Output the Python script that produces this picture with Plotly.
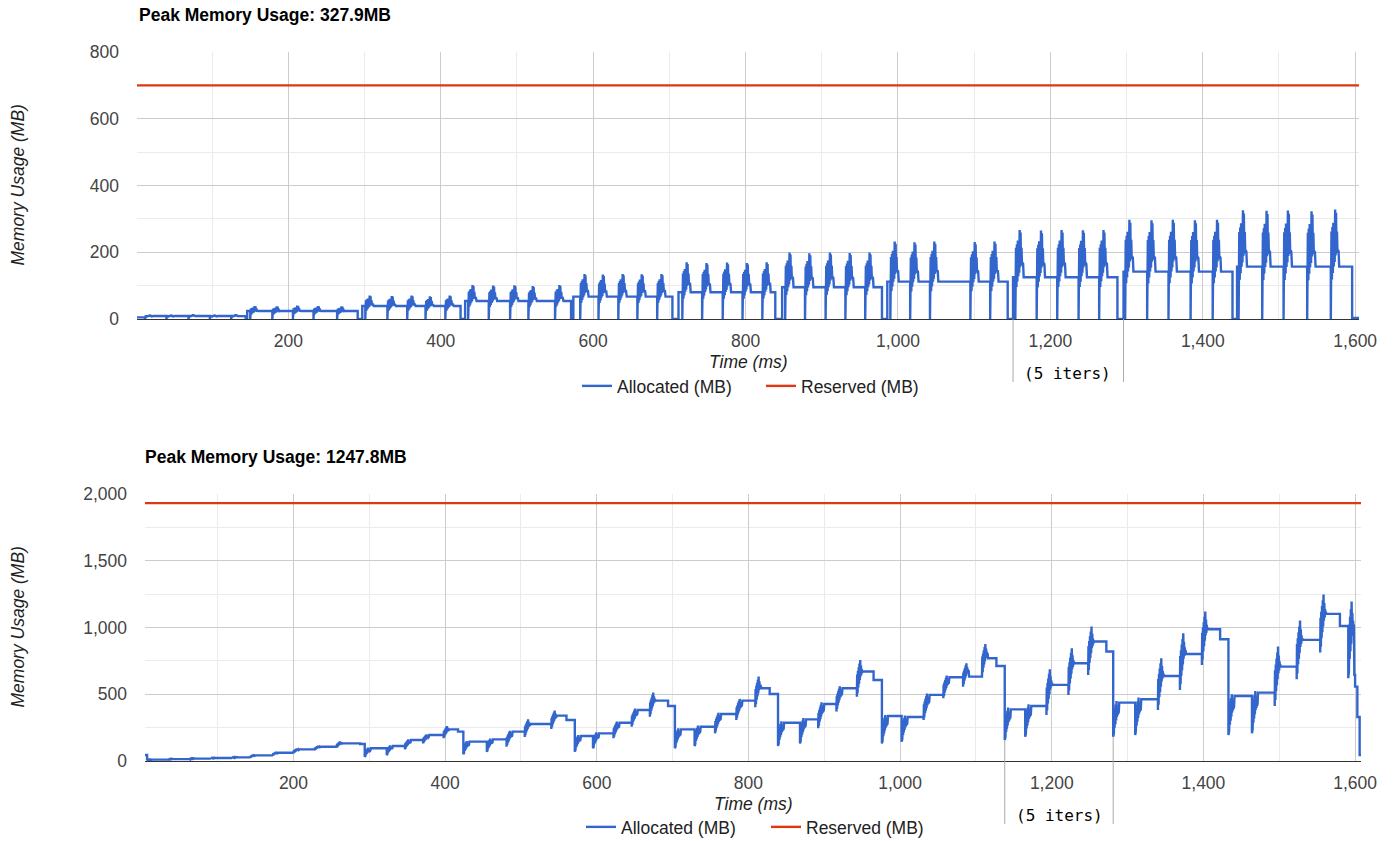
import plotly.graph_objects as go

# ------------------------------------------------------------------
# Run 1 (upper chart): 11 groups of 5 iterations each
# ------------------------------------------------------------------
TOP_T_RANGE = [1.4, 1605.0]
TOP_START_V = 5.0
TOP_GROUP_START = [1.4, 146, 297, 432, 574, 712, 848, 986, 1151, 1296, 1445]
TOP_GROUP_END = [144, 291, 426, 571, 704, 839, 979, 1144, 1288, 1439, 1596]
TOP_GROUP_LEVEL = [9, 24, 39, 54, 67, 80, 95, 112, 125, 142, 157]
TOP_ITER_T = [
    [12, 40, 69, 97, 125],
    [150, 179, 206, 233, 264],
    [301, 330, 356, 380, 406],
    [436, 463, 491, 515, 550],
    [583, 607, 633, 658, 684],
    [717, 743, 770, 796, 822],
    [852, 878, 905, 931, 957],
    [990, 1016, 1042, 1095, 1121],
    [1154, 1182, 1209, 1237, 1264],
    [1298, 1327, 1355, 1384, 1413],
    [1447, 1478, 1506, 1537, 1568],
]
TOP_ITER_PEAK = [
    [13, 13, 14, 13, 14],
    [39, 38, 40, 39, 38],
    [70, 69, 70, 68, 70],
    [102, 100, 101, 99, 102],
    [135, 133, 135, 134, 135],
    [170, 168, 169, 168, 170],
    [199, 197, 199, 198, 199],
    [232, 230, 232, 231, 232],
    [267, 265, 267, 266, 267],
    [297, 296, 297, 296, 297],
    [326, 324, 325, 323, 327.9],
]
TOP_FINAL_V = 3.0
TOP_RESERVED = 700.0
TOP_PEAK_LABEL = "Peak Memory Usage: 327.9MB"
TOP_MARK_T = [1151, 1296]

# shape of one forward/backward burst: time offset (ms) and fraction of peak
TOP_BURST_DT = [0.0, 0.3, 0.9, 1.5, 2.1, 2.7, 3.3, 3.9, 4.5, 5.1, 5.7, 6.3, 6.9, 7.5, 8.1, 8.7, 9.4, 10.2]
TOP_BURST_FRAC = [0.0, 0.30, 0.80, 0.36, 0.84, 0.42, 0.88, 0.48, 0.80, 0.52, 1.00, 0.58, 0.97, 0.60, 0.80, 0.62, 0.63, 0.62]
TOP_BURST_LEN = 11.0

# ------------------------------------------------------------------
# Run 2 (lower chart): bursts with low / high extents and settled level
# ------------------------------------------------------------------
BOT_T_RANGE = [4.2, 1607.8]
BOT_START_V = 45.0
BOT_BURST_T = [
    7, 35, 63, 91, 119,
    143, 173, 200, 228, 257,
    294, 323, 347, 371, 398,
    424, 455, 481, 505, 540,
    571, 595, 622, 646, 670,
    703, 729, 756, 784, 809,
    839, 868, 892, 916, 943,
    976, 1002, 1031, 1057, 1083, 1108,
    1138, 1165, 1193, 1222, 1248,
    1281, 1310, 1340, 1369, 1398,
    1433, 1464, 1494, 1523, 1554,
    1591,
]
BOT_BURST_LOW = [
    5, 9, 12, 16, 20,
    22, 40, 58, 80, 100,
    32, 45, 87, 132, 170,
    50, 70, 107, 180, 240,
    70, 95, 170, 257, 332,
    95, 112, 207, 307, 402,
    112, 132, 245, 370, 482,
    132, 145, 307, 470, 557, 640,
    157, 182, 345, 495, 645,
    182, 195, 382, 532, 720,
    195, 207, 412, 612, 812,
    620,
]
BOT_BURST_HIGH = [
    12, 17, 21, 26, 31,
    50, 70, 95, 115, 147,
    100, 118, 162, 200, 262,
    150, 168, 226, 312, 377,
    195, 215, 295, 392, 512,
    245, 265, 362, 465, 632,
    297, 322, 440, 560, 757,
    345, 340, 505, 640, 732, 877,
    400, 425, 687, 845, 1007,
    450, 475, 770, 957, 1120,
    500, 525, 857, 1052, 1247.8,
    1195,
]
BOT_BURST_LEVEL = [
    10, 14, 18, 22, 27,
    42, 62, 87, 107, 132,
    95, 112, 157, 195, 237,
    145, 162, 220, 277, 340,
    187, 207, 287, 382, 452,
    237, 257, 352, 452, 545,
    287, 312, 427, 545, 670,
    337, 330, 495, 627, 632, 770,
    387, 412, 570, 732, 895,
    437, 462, 637, 802, 987,
    487, 512, 707, 907, 1102,
    645,
]
BOT_STEP_T = [288, 417, 560, 694, 828, 965, 1127, 1272, 1422, 1580, 1600, 1603, 1606]
BOT_STEP_V = [127, 220, 307, 412, 502, 607, 712, 820, 912, 1012, 557, 330, 45]
BOT_RESERVED = 1932.0
BOT_PEAK_LABEL = "Peak Memory Usage: 1247.8MB"
BOT_MARK_T = [1138, 1281]

BOT_BURST_DT = [0.0, 0.4, 0.9, 1.4, 1.9, 2.4, 2.9, 3.4, 3.9, 4.4, 4.9, 5.4, 5.9, 6.4, 6.9, 7.4]
BOT_BURST_FRAC = [0.0, 0.60, 0.10, 0.70, 0.25, 0.80, 0.35, 0.90, 0.45, 1.00, 0.55, 0.85, 0.60, 0.75, 0.65, 0.70]
BOT_BURST_LEN = 8.0

# axis ticks
X_TICKS = [200, 400, 600, 800, 1000, 1200, 1400, 1600]
X_MINOR = [100, 300, 500, 700, 900, 1100, 1300, 1500]
TOP_Y_TICKS = [0, 200, 400, 600, 800]
TOP_Y_MINOR = [100, 300, 500, 700]
BOT_Y_TICKS = [0, 500, 1000, 1500, 2000]
BOT_Y_MINOR = [250, 750, 1250, 1750]

BLUE = "#3366cc"
RED = "#dc3912"
W, H = 1397, 841


def build_series(start_t, start_v, end_t, bursts, steps, dts, fracs, blen):
    """Expand step changes and bursts (t, low, high, level) into a polyline."""
    events = [(t, 0, v) for t, v in steps] + [(t, 1, b) for t, *b in bursts]
    events.sort(key=lambda e: (e[0], e[1]))
    xs, ys, cur = [start_t], [start_v], start_v
    for t, kind, p in events:
        xs.append(t)
        ys.append(cur)
        if kind == 0:
            xs.append(t)
            ys.append(p)
            cur = p
        else:
            lo, hi, lv = p
            for d, f in zip(dts, fracs):
                xs.append(t + d)
                ys.append(lo + f * (hi - lo))
            xs.append(t + blen)
            ys.append(lv)
            cur = lv
    xs.append(end_t)
    ys.append(cur)
    return xs, ys


# upper series
top_steps = []
for g, (gs, ge, lv) in enumerate(zip(TOP_GROUP_START, TOP_GROUP_END, TOP_GROUP_LEVEL)):
    if g > 0:
        top_steps.append((gs, lv))
    top_steps.append((ge, 0.0))
top_steps.append((TOP_GROUP_END[-1] + 1.5, TOP_FINAL_V))
top_bursts = []
for g, lv in enumerate(TOP_GROUP_LEVEL):
    for t, pk in zip(TOP_ITER_T[g], TOP_ITER_PEAK[g]):
        top_bursts.append((t, 0.0, pk, lv))
top_x, top_y = build_series(TOP_T_RANGE[0], TOP_START_V, TOP_T_RANGE[1], top_bursts, top_steps,
                            TOP_BURST_DT, TOP_BURST_FRAC, TOP_BURST_LEN)

# lower series
bot_bursts = list(zip(BOT_BURST_T, BOT_BURST_LOW, BOT_BURST_HIGH, BOT_BURST_LEVEL))
bot_steps = list(zip(BOT_STEP_T, BOT_STEP_V))
bot_x, bot_y = build_series(BOT_T_RANGE[0], BOT_START_V, BOT_T_RANGE[1], bot_bursts, bot_steps,
                            BOT_BURST_DT, BOT_BURST_FRAC, BOT_BURST_LEN)

fig = go.Figure()
fig.add_trace(go.Scatter(x=top_x, y=top_y, mode="lines", name="Allocated (MB)",
                         line=dict(color=BLUE, width=2.4), xaxis="x", yaxis="y",
                         legend="legend", hoverinfo="skip"))
fig.add_trace(go.Scatter(x=TOP_T_RANGE, y=[TOP_RESERVED, TOP_RESERVED], mode="lines",
                         name="Reserved (MB)", line=dict(color=RED, width=2.4),
                         xaxis="x", yaxis="y", legend="legend", hoverinfo="skip"))
fig.add_trace(go.Scatter(x=bot_x, y=bot_y, mode="lines", name="Allocated (MB)",
                         line=dict(color=BLUE, width=2.4), xaxis="x2", yaxis="y2",
                         legend="legend2", hoverinfo="skip"))
fig.add_trace(go.Scatter(x=BOT_T_RANGE, y=[BOT_RESERVED, BOT_RESERVED], mode="lines",
                         name="Reserved (MB)", line=dict(color=RED, width=2.4),
                         xaxis="x2", yaxis="y2", legend="legend2", hoverinfo="skip"))

# plot areas (pixel boxes converted to paper fractions)
top_box = dict(l=137, r=1359, t=52, b=319)
bot_box = dict(l=145, r=1361, t=494, b=761)


def xdom(b):
    return [b["l"] / W, b["r"] / W]


def ydom(b):
    return [1 - b["b"] / H, 1 - b["t"] / H]


tick_font = dict(family="Liberation Sans, Arial, sans-serif", size=17.5, color="#444444")


def xaxis_cfg(box, rng, anchor):
    return dict(domain=xdom(box), range=rng, anchor=anchor, tickmode="array",
                tickvals=X_TICKS, tickformat=",d", showgrid=True, gridcolor="#cccccc",
                gridwidth=1, minor=dict(tickmode="array", tickvals=X_MINOR, showgrid=True,
                                        gridcolor="#ebebeb", gridwidth=1),
                showline=True, linecolor="#333333", linewidth=1, zeroline=False, ticks="",
                layer="below traces", tickfont=tick_font, ticklabelstandoff=6,
                automargin=False, fixedrange=True)


def yaxis_cfg(box, rng, ticks, minor, anchor):
    return dict(domain=ydom(box), range=rng, anchor=anchor, tickmode="array", tickvals=ticks,
                tickformat=",d", showgrid=True, gridcolor="#cccccc", gridwidth=1,
                minor=dict(tickmode="array", tickvals=minor, showgrid=True,
                           gridcolor="#ebebeb", gridwidth=1),
                showline=False, zeroline=False, ticks="", layer="below traces",
                tickfont=tick_font, ticklabelstandoff=17, automargin=False, fixedrange=True)


fig.update_layout(
    template="none",
    width=W, height=H, margin=dict(l=0, r=0, t=0, b=0, pad=0, autoexpand=False),
    paper_bgcolor="white", plot_bgcolor="white",
    font=dict(family="Liberation Sans, Arial, sans-serif", size=17.5, color="#222222"),
    xaxis=xaxis_cfg(top_box, TOP_T_RANGE, "y"),
    yaxis=yaxis_cfg(top_box, [0, 800], TOP_Y_TICKS, TOP_Y_MINOR, "x"),
    xaxis2=xaxis_cfg(bot_box, BOT_T_RANGE, "y2"),
    yaxis2=yaxis_cfg(bot_box, [0, 2000], BOT_Y_TICKS, BOT_Y_MINOR, "x2"),
    showlegend=True,
    legend=dict(orientation="h", x=577 / W, xanchor="left", y=1 - 386 / H, yanchor="middle",
                entrywidth=139, entrywidthmode="pixels", bgcolor="rgba(0,0,0,0)",
                font=dict(size=17.5, color="#222222")),
    legend2=dict(orientation="h", x=581 / W, xanchor="left", y=1 - 827 / H, yanchor="middle",
                 entrywidth=140, entrywidthmode="pixels", bgcolor="rgba(0,0,0,0)",
                 font=dict(size=17.5, color="#222222")),
)

ann = []
shapes = []
for box, label, tx in [(top_box, TOP_PEAK_LABEL, 137), (bot_box, BOT_PEAK_LABEL, 143)]:
    ann.append(dict(text=f"<b>{label}</b>", x=tx / W, y=1 - (box["t"] - 37) / H, xref="paper",
                    yref="paper", xanchor="left", yanchor="middle", showarrow=False,
                    font=dict(size=17.5, color="#000000")))
    ann.append(dict(text="<i>Memory Usage (MB)</i>", x=17 / W, y=1 - (box["t"] + box["b"]) / 2 / H,
                    xref="paper", yref="paper", xanchor="center", yanchor="middle",
                    textangle=-90, showarrow=False, font=dict(size=17.5, color="#222222")))
    ann.append(dict(text="<i>Time (ms)</i>", x=(box["l"] + box["r"]) / 2 / W, y=1 - (box["b"] + 43) / H,
                    xref="paper", yref="paper", xanchor="center", yanchor="middle",
                    showarrow=False, font=dict(size=17.5, color="#222222")))

# iteration-span markers below each chart
mono = dict(family="DejaVu Sans Mono, monospace", size=16, color="#000000")
for box, marks, xr, yr, vals in [
    (top_box, TOP_MARK_T, "x", "y", [0.0, 0.0]),
    (bot_box, BOT_MARK_T, "x2", "y2",
     [BOT_BURST_LOW[BOT_BURST_T.index(BOT_MARK_T[0])], BOT_BURST_LOW[BOT_BURST_T.index(BOT_MARK_T[1])]]),
]:
    for t, v in zip(marks, vals):
        if v > 0:
            shapes.append(dict(type="line", xref=xr, yref=yr, x0=t, x1=t, y0=0, y1=v,
                               line=dict(color="#aaaaaa", width=1), layer="above"))
        shapes.append(dict(type="line", xref=xr, yref="paper", x0=t, x1=t, y0=1 - box["b"] / H,
                           y1=1 - (box["b"] + 63) / H, line=dict(color="#aaaaaa", width=1)))
    ann.append(dict(text="(5 iters)", x=marks[0], xref=xr, xshift=9, y=1 - (box["b"] + 54) / H,
                    yref="paper", xanchor="left", yanchor="middle", showarrow=False, font=mono))

fig.update_layout(annotations=ann, shapes=shapes)
fig.write_html("out.html")
